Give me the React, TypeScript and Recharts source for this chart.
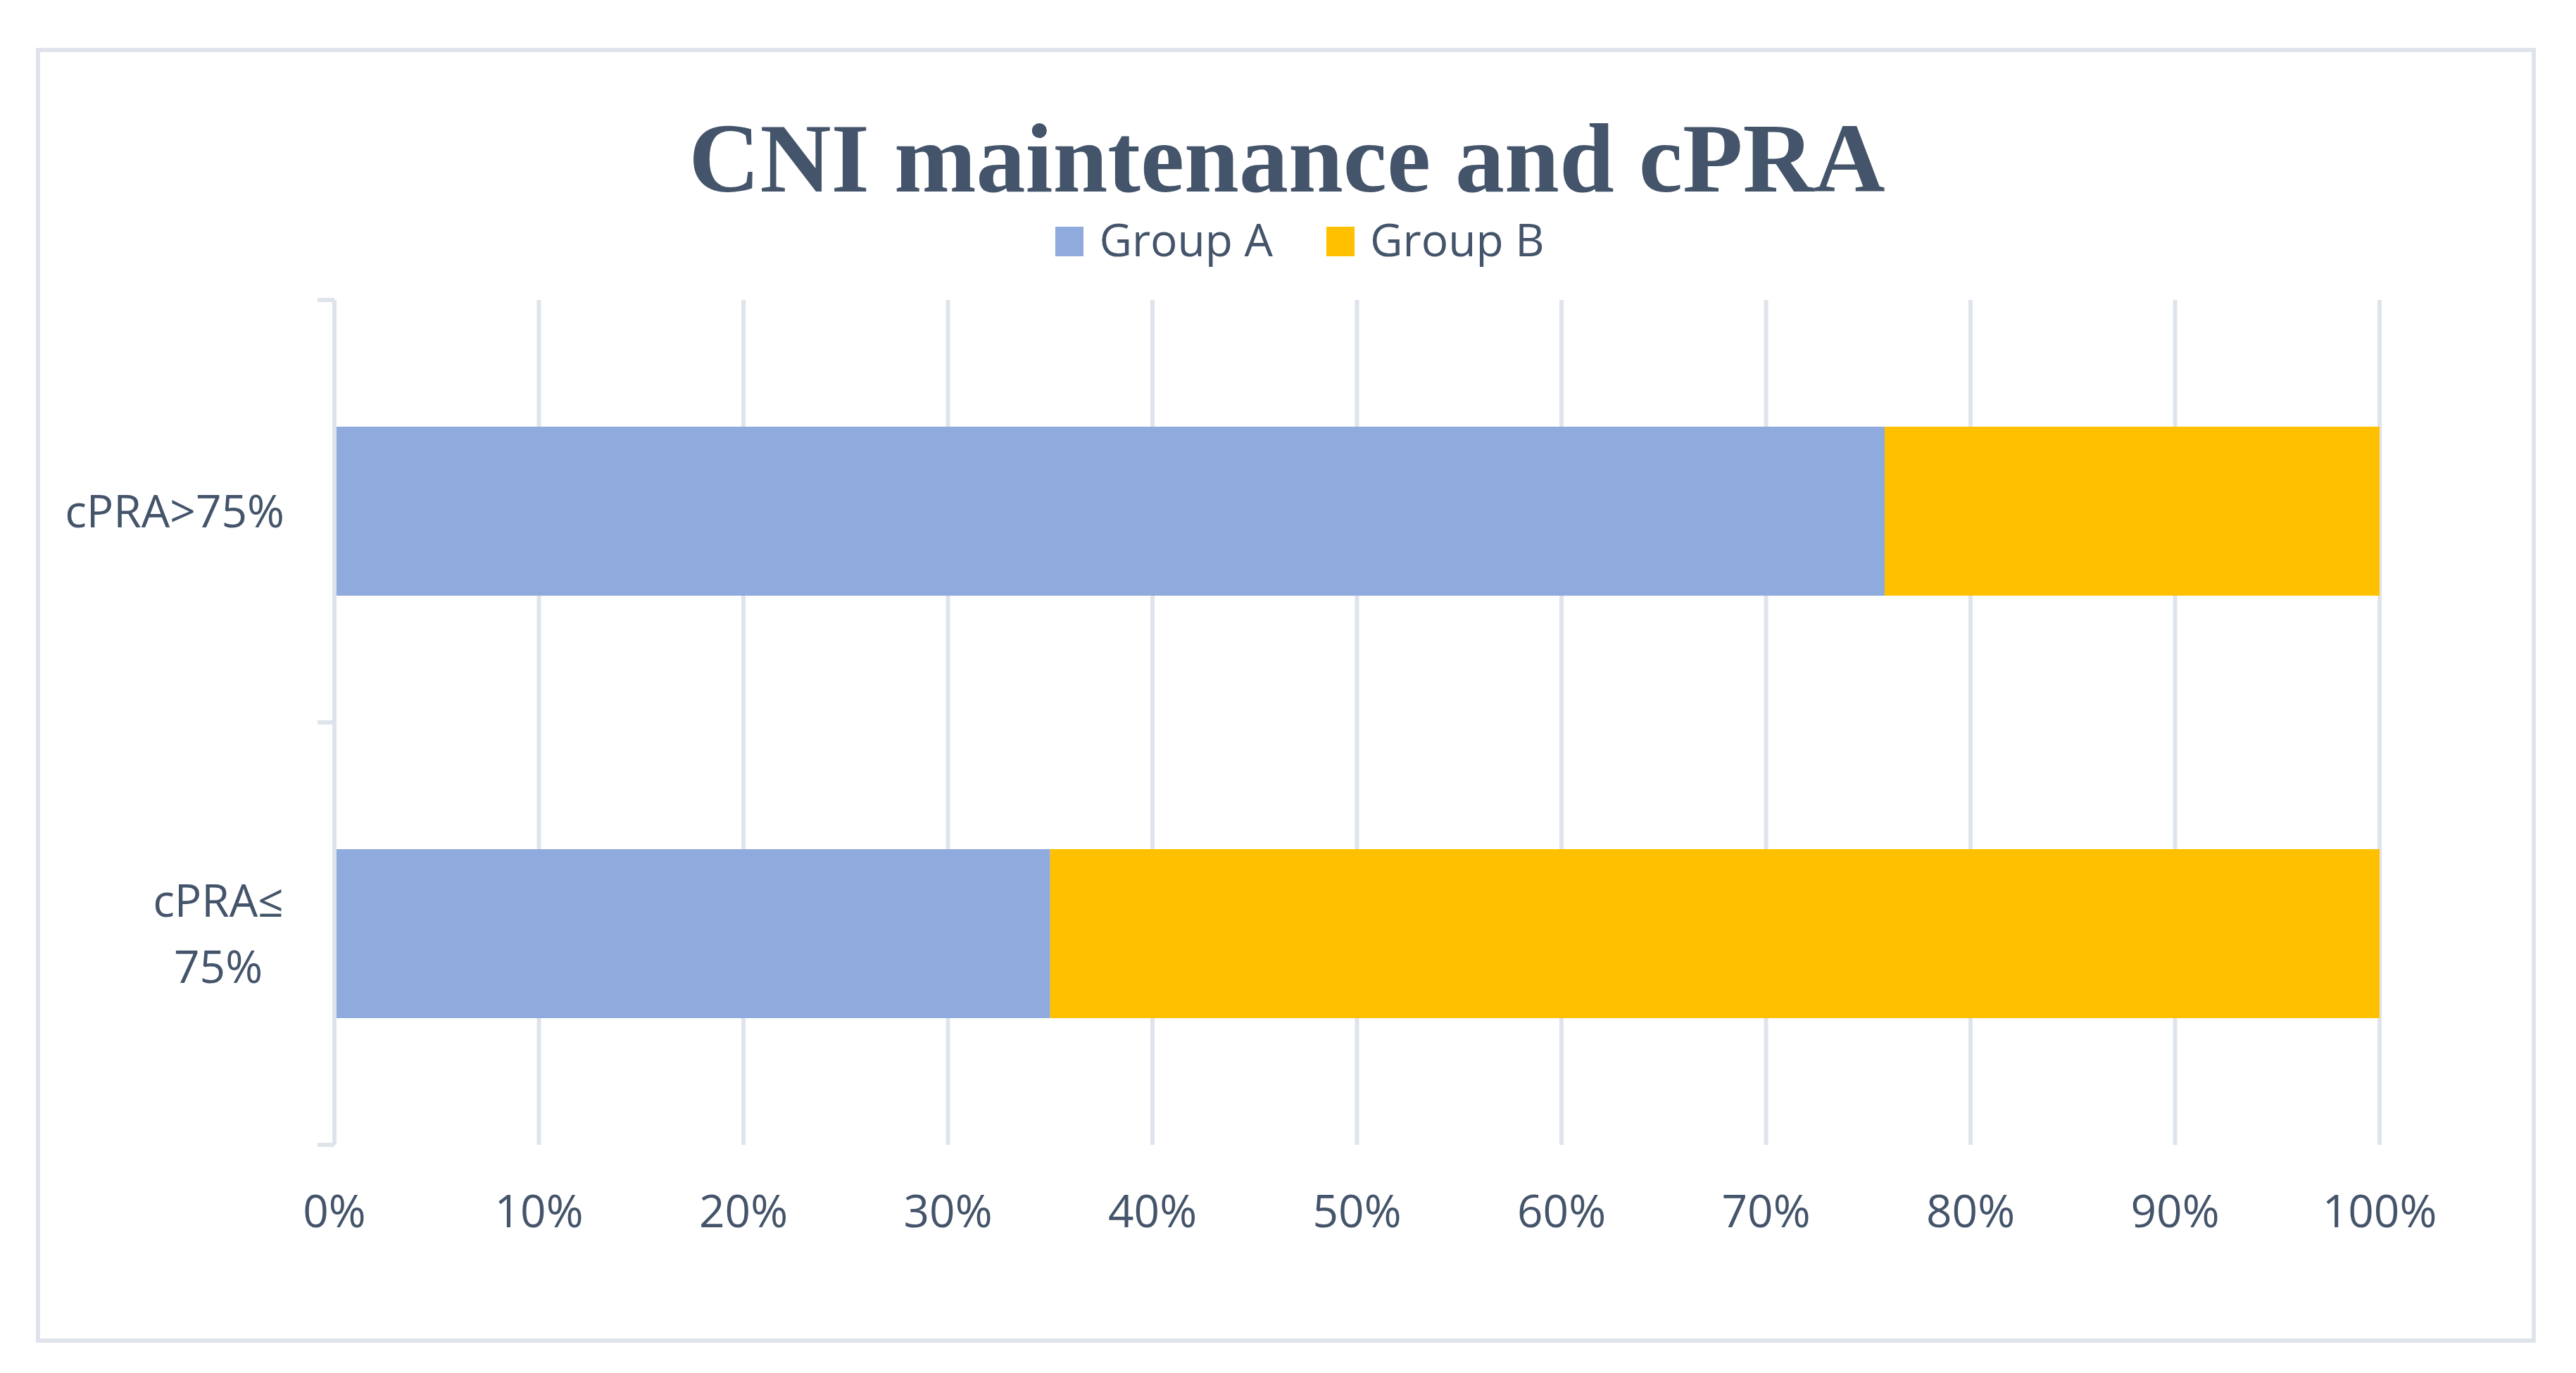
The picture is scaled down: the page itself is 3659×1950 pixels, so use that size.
import { Bar, BarChart, CartesianGrid, Legend, XAxis, YAxis } from "recharts";

const categories = ["cPRA>75%", "cPRA≤ 75%"];
const seriesNames = ["Group A", "Group B"];
const groupA = [75.8, 35];
const groupB = [24.2, 65];
const xTicks = [0, 10, 20, 30, 40, 50, 60, 70, 80, 90, 100];

const TEXT = "#44546A";
const GRID = "#DFE4EC";
const COLORS = ["#8FAADC", "#FFC000"];
const FONT = "'Open Sans', 'Noto Sans', sans-serif";

const data = categories.map((name, i) => ({
  name,
  groupA: groupA[i],
  groupB: groupB[i],
}));

// label plus the tick marks on the category boundaries (Excel style)
function CategoryTick({ x, y, payload, index, height, visibleTicksCount }: any) {
  const band = Number(height) / visibleTicksCount;
  const lines = String(payload.value).split(" ");
  const marks = [y - band / 2];
  if (index === visibleTicksCount - 1) marks.push(y + band / 2);

  return (
    <g>
      {marks.map((m) => (
        <line key={m} x1={x - 24} x2={x} y1={m} y2={m} stroke={GRID} strokeWidth={6} />
      ))}
      {lines.length === 1 ? (
        <text x={x - 71} y={y} dy={23} textAnchor="end" fill={TEXT} fontSize={64} fontFamily={FONT}>
          {lines[0]}
        </text>
      ) : (
        <text x={x - 165} y={y} textAnchor="middle" fill={TEXT} fontSize={64} fontFamily={FONT}>
          {lines.map((l, i) => (
            <tspan key={l} x={x - 165} dy={i === 0 ? -24 : 94}>
              {l}
            </tspan>
          ))}
        </text>
      )}
    </g>
  );
}

function LegendContent({ payload }: any) {
  return (
    <div
      style={{
        display: "flex",
        justifyContent: "center",
        alignItems: "baseline",
        gap: 76,
        fontSize: 64,
        lineHeight: "64px",
        color: TEXT,
        fontFamily: FONT,
      }}
    >
      {(payload ?? []).map((p: any) => (
        <div key={p.value} style={{ display: "flex", alignItems: "baseline" }}>
          <span
            style={{
              display: "inline-block",
              width: 40,
              height: 42,
              background: p.color,
              marginRight: 22,
            }}
          />
          <span>{p.value}</span>
        </div>
      ))}
    </div>
  );
}

export default function App() {
  return (
    <div
      style={{
        position: "absolute",
        left: 0,
        top: 0,
        width: 3659,
        height: 1950,
        background: "#fff",
        fontFamily: FONT,
      }}
    >
      <div
        style={{
          position: "absolute",
          left: 51,
          top: 68,
          width: 3551,
          height: 1839,
          border: `6px solid ${GRID}`,
          boxSizing: "border-box",
        }}
      />
      <svg
        width={3659}
        height={400}
        style={{ position: "absolute", left: 0, top: 0, pointerEvents: "none" }}
      >
        <text
          x={1828}
          y={272}
          textAnchor="middle"
          fill={TEXT}
          fontSize={140}
          fontWeight="bold"
          fontFamily="'Liberation Serif', 'DejaVu Serif', serif"
        >
          CNI maintenance and cPRA
        </text>
      </svg>
      <BarChart
        width={3659}
        height={1950}
        data={data}
        layout="vertical"
        barCategoryGap="30%"
        margin={{ top: 426, right: 279, bottom: 224, left: 55 }}
        style={{ position: "absolute", left: 0, top: 0 }}
      >
        <CartesianGrid horizontal={false} stroke={GRID} strokeWidth={6} />
        <XAxis
          type="number"
          domain={[0, 100]}
          ticks={xTicks}
          tickFormatter={(v: number) => `${v}%`}
          axisLine={false}
          tickLine={false}
          tickSize={0}
          tickMargin={72}
          height={100}
          tick={{ fill: TEXT, fontSize: 64, fontFamily: FONT }}
          interval={0}
        />
        <YAxis
          type="category"
          dataKey="name"
          width={420}
          axisLine={{ stroke: GRID, strokeWidth: 6 }}
          tickLine={false}
          tickSize={0}
          tickMargin={0}
          tick={<CategoryTick />}
          interval={0}
        />
        <Legend
          layout="horizontal"
          align="center"
          verticalAlign="middle"
          content={<LegendContent />}
          wrapperStyle={{ position: "absolute", left: 17, top: 308, width: 3659 }}
        />
        <Bar
          dataKey="groupA"
          name={seriesNames[0]}
          stackId="s"
          fill={COLORS[0]}
          isAnimationActive={false}
        />
        <Bar
          dataKey="groupB"
          name={seriesNames[1]}
          stackId="s"
          fill={COLORS[1]}
          isAnimationActive={false}
        />
      </BarChart>
    </div>
  );
}
